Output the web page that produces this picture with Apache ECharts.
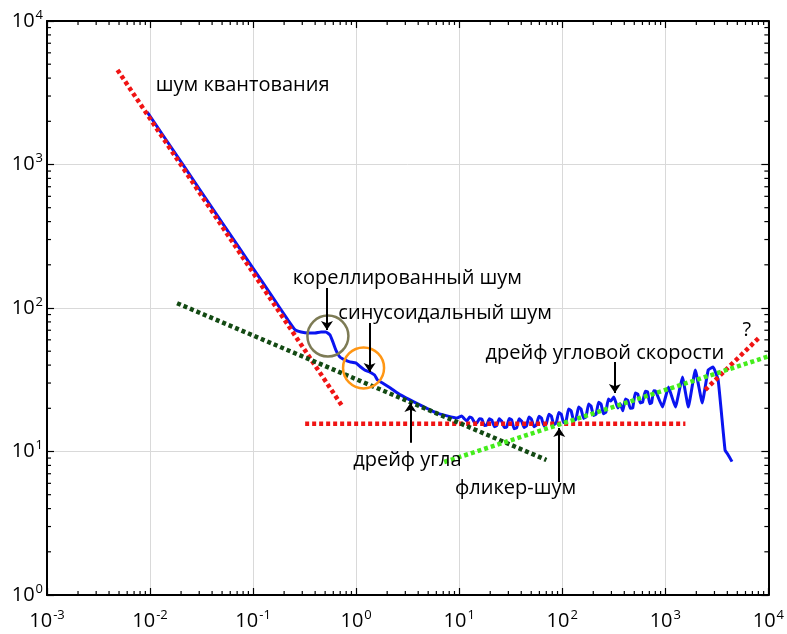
<!DOCTYPE html>
<html>
<head>
<meta charset="utf-8">
<script src="https://cdn.jsdelivr.net/npm/echarts@6/dist/echarts.min.js"></script>
<style>
  html, body { margin: 0; padding: 0; background: #fff; }
  #chart { width: 787px; height: 634px; }
</style>
</head>
<body>
<div id="chart"></div>
<script>
// measured Allan deviation curve (tau, sigma)
var tauBlue = [0.0094, 0.02, 0.05, 0.1, 0.15, 0.219, 0.256, 0.292, 0.342, 0.399, 0.456, 0.509,
  0.557, 0.595, 0.636, 0.695, 0.777, 0.868, 0.991, 1.107, 1.21, 1.35, 1.51, 1.61, 1.80, 2.15,
  2.69, 3.67, 6.11, 9.53,
  10.6, 11.2, 11.9, 12.6, 13.3, 14.0, 14.8, 15.7, 16.6, 17.5, 18.5, 19.6, 20.7, 21.9, 23.1,
  24.4, 25.8, 27.3, 28.9, 30.5, 32.3, 34.1, 36.1, 38.1, 40.3, 42.6, 45.0, 47.5, 50.2, 53.1,
  56.1, 59.4, 62.8, 66.4, 70.1, 74.1, 78.3, 82.7, 87.5, 92.5, 97.8, 103, 109, 115, 122, 129,
  136, 144, 152, 161, 170, 180, 190, 201, 213, 225, 238, 251, 265, 280, 296, 317, 346, 365,
  387, 410, 432, 457, 483, 510, 540, 571, 603, 638, 674, 705, 736, 770, 805,
  940, 1074, 1254, 1465, 1674, 1955, 2282, 2608, 2914, 3258, 3803, 4064, 4440];
var sigmaBlue = [2320, 1042, 394, 189, 123, 82, 70.3, 68.1, 67.0, 67.0, 68.1, 68.1,
  64.9, 57.9, 50.9, 45.6, 43.5, 42.1, 41.4, 38.8, 37.0, 35.8, 34.1, 31.5, 30.0, 27.7,
  24.8, 22.1, 18.5, 17.1,
  17.7, 16.9, 16.3, 17.4, 17.1, 16.0, 15.8, 16.9, 16.8, 15.2, 15.3, 16.9, 16.6, 14.9, 15.1,
  16.9, 16.3, 14.7, 14.8, 17.0, 16.6, 14.4, 14.6, 16.9, 16.3, 14.7, 15.1, 17.4, 16.8, 14.9,
  15.3, 17.6, 17.1, 15.1, 15.6, 18.2, 17.7, 15.4, 15.8, 18.7, 18.2, 15.9, 16.3, 19.8, 19.2, 16.4,
  16.8, 20.4, 19.8, 17.0, 17.4, 21.4, 20.8, 17.8, 18.2, 22.0, 21.4, 18.3, 18.8, 23.2, 22.5, 24.0, 20.1, 21.5,
  19.2, 23.2, 22.8, 20.0, 20.1, 25.6, 25.2, 21.8, 22.1, 26.3, 26.0, 21.5, 21.8, 26.5, 26.4,
  20.4, 28.1, 20.4, 33.0, 20.4, 37.0, 21.8, 37.0, 38.8, 31.5, 10.2, 9.5, 8.5];

// fitted asymptotes (end points)
var quantLine = [[0.00483, 4560], [0.743, 20.4]];
var biasLine = [[0.320, 15.6], [1567, 15.6]];
var rampLine = [[2439, 26.9], [8260, 62.8]];
var arwLine = [[0.0183, 108], [70.2, 8.73]];
var rrwLine = [[7.15, 8.45], [10000, 46]];

// highlighted spots
var circleOlive = [0.532, 63.8];
var circleOrange = [1.18, 38.2];

// annotation texts and their anchor points
var noteNames = ['шум квантования', 'кореллированный шум', 'синусоидальный шум', 'дрейф угла',
  'фликер-шум', 'дрейф угловой скорости', '?'];
var notePos = [[0.0791, 3580], [3.14, 162], [7.30, 92.3], [3.14, 8.73], [35.2, 5.57], [259, 48.5], [6190, 70.3]];

// arrows: from -> to
var arrows = [
  [[0.521, 138], [0.521, 70.3]],
  [[1.35, 78.5], [1.35, 35.8]],
  [[3.36, 11.5], [3.36, 21.8]],
  [[93.5, 6.12], [93.5, 14.6]],
  [[324, 42.1], [324, 25.6]]
];

// minor tick values (2..9 of each decade)
var minorX = [], minorY = [];
[-3, -2, -1, 0, 1, 2, 3].forEach(function (e) {
  for (var k = 2; k <= 9; k++) minorX.push([k * Math.pow(10, e), 1]);
});
[0, 1, 2, 3].forEach(function (e) {
  for (var k = 2; k <= 9; k++) minorY.push([0.001, k * Math.pow(10, e)]);
});

var chart = echarts.init(document.getElementById('chart'));

function pow10Label(v) {
  var e = Math.round(Math.log10(v));
  return '{b|10}{s|' + (e < 0 ? '-' + (-e) : e) + '}';
}
var labelRich = {
  b: { fontSize: 20, fontFamily: 'Open Sans', color: '#000' },
  s: { fontSize: 13, fontFamily: 'Open Sans', color: '#000', padding: [0, 0, 12, 1] }
};

function dotted(color) {
  return { color: color, width: 4.5, type: [4, 3], cap: 'butt' };
}

function tickSeries(data, horizontal) {
  return {
    type: 'custom',
    silent: true,
    z: 5,
    data: data,
    renderItem: function (params, api) {
      var cs = params.coordSys;
      var p = api.coord([api.value(0), api.value(1)]);
      var L = 4;
      var s = { stroke: '#000', lineWidth: 1.2 };
      if (horizontal) {
        return { type: 'group', children: [
          { type: 'line', shape: { x1: p[0], y1: cs.y + cs.height, x2: p[0], y2: cs.y + cs.height - L }, style: s },
          { type: 'line', shape: { x1: p[0], y1: cs.y, x2: p[0], y2: cs.y + L }, style: s }
        ] };
      }
      return { type: 'group', children: [
        { type: 'line', shape: { x1: cs.x, y1: p[1], x2: cs.x + L, y2: p[1] }, style: s },
        { type: 'line', shape: { x1: cs.x + cs.width, y1: p[1], x2: cs.x + cs.width - L, y2: p[1] }, style: s }
      ] };
    }
  };
}

var axisLine = { show: true, lineStyle: { color: '#000', width: 2 } };
var axisTick = { show: true, inside: true, length: 7, lineStyle: { color: '#000', width: 1.2 } };

var option = {
  animation: false,
  backgroundColor: '#fff',
  grid: { left: 47, right: 14, top: 21, bottom: 39 },
  xAxis: [{
    type: 'log', logBase: 10, min: 0.001, max: 10000, position: 'bottom',
    axisLine: axisLine, axisTick: axisTick,
    axisLabel: { margin: 14, formatter: pow10Label, rich: labelRich },
    splitLine: { show: true, lineStyle: { color: '#d9d9d9', width: 1 } }
  }, {
    type: 'log', logBase: 10, min: 0.001, max: 10000, position: 'top',
    axisLine: axisLine, axisTick: axisTick, axisLabel: { show: false }, splitLine: { show: false }
  }],
  yAxis: [{
    type: 'log', logBase: 10, min: 1, max: 10000, position: 'left',
    axisLine: axisLine, axisTick: axisTick,
    axisLabel: { margin: 4, formatter: pow10Label, rich: labelRich },
    splitLine: { show: true, lineStyle: { color: '#d9d9d9', width: 1 } }
  }, {
    type: 'log', logBase: 10, min: 1, max: 10000, position: 'right',
    axisLine: axisLine, axisTick: axisTick, axisLabel: { show: false }, splitLine: { show: false }
  }],
  series: [
    tickSeries(minorX, true),
    tickSeries(minorY, false),
    {
      type: 'line', name: 'adev', showSymbol: false, smooth: 0.1, z: 2,
      data: tauBlue.map(function (t, i) { return [t, sigmaBlue[i]]; }),
      lineStyle: { color: '#0a14f0', width: 3 }
    },
    { type: 'line', showSymbol: false, z: 3, data: quantLine, lineStyle: dotted('#f01414') },
    { type: 'line', showSymbol: false, z: 3, data: biasLine, lineStyle: dotted('#f01414') },
    { type: 'line', showSymbol: false, z: 3, data: rampLine, lineStyle: dotted('#f01414') },
    { type: 'line', showSymbol: false, z: 3, data: arwLine, lineStyle: dotted('#134a13') },
    { type: 'line', showSymbol: false, z: 3, data: rrwLine, lineStyle: dotted('#45ec1c') },
    {
      type: 'scatter', z: 4, symbol: 'circle', symbolSize: 41,
      data: [{ value: circleOlive, itemStyle: { borderColor: '#7d7b55' } },
             { value: circleOrange, itemStyle: { borderColor: '#ff9614' } }],
      itemStyle: { color: 'rgba(0,0,0,0)', borderWidth: 2.5, opacity: 1 }
    },
    {
      type: 'lines', coordinateSystem: 'cartesian2d', z: 6,
      symbol: ['none', 'arrow'], symbolSize: 9,
      lineStyle: { color: '#000', width: 2, opacity: 1 },
      data: arrows.map(function (a) { return { coords: a }; })
    },
    {
      type: 'scatter', z: 7, symbolSize: 0, silent: true,
      itemStyle: { opacity: 1 },
      data: noteNames.map(function (n, i) { return { name: n, value: notePos[i] }; }),
      label: {
        show: true, position: 'inside', formatter: '{b}',
        fontSize: 20, fontFamily: 'Open Sans', color: '#000'
      }
    }
  ]
};
chart.setOption(option);
</script>
</body>
</html>
